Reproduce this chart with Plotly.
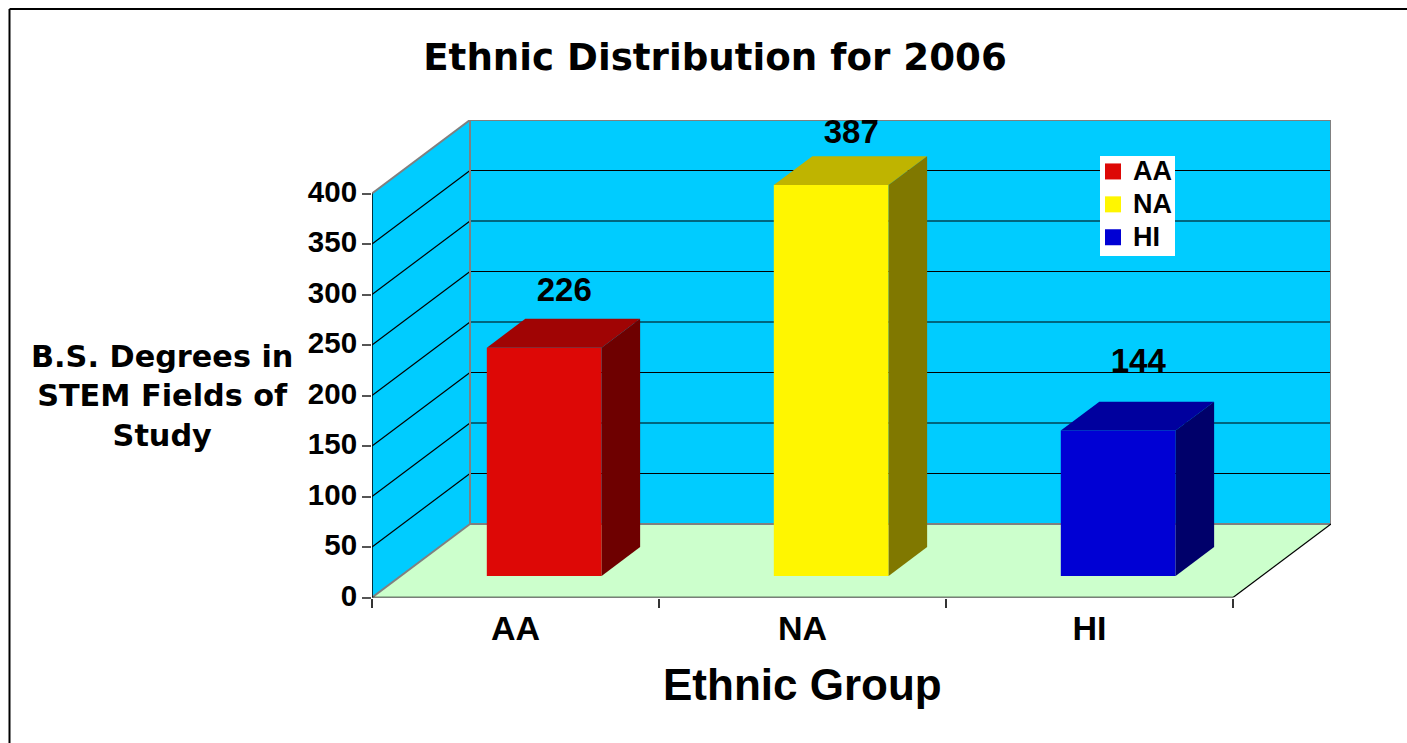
import plotly.graph_objects as go

# --- data ---
categories = ["AA", "NA", "HI"]
values = [226, 387, 144]
face_colors = ["#DD0806", "#FFF600", "#0000D4"]
top_colors = ["#A00404", "#BFB400", "#00009E"]
side_colors = ["#6E0000", "#807800", "#00006A"]
y_ticks = [0, 50, 100, 150, 200, 250, 300, 350, 400]
label_lift = [76, 71, 87]

W, H = 1407, 743
LEFT, RIGHT, TOP, BOTTOM = 372, 1331, 120, 597.5
CAT_PX, UNIT_PX = 287.0, 1.01
DX = (RIGHT - LEFT) / CAT_PX - len(categories)
DY = 73.5 / UNIT_PX
Y_TOP = y_ticks[-1] + DY
BAR_START, BAR_WIDTH = 0.3, 0.4
SHIFT, DEPTH = 0.293, 0.393
FONT = "Liberation Sans"
VERD = "DejaVu Sans"


def proj(x, v, d):
    return x + d * DX, v + d * DY


def path(points):
    return "M " + " L ".join(f"{x:.4f},{y:.4f}" for x, y in points) + " Z"


def line(p, q, color, width):
    return dict(type="line", xref="x", yref="y", x0=p[0], y0=p[1], x1=q[0], y1=q[1],
                line=dict(color=color, width=width), layer="below")


n = len(categories)
vmax = y_ticks[-1]
shapes = [
    dict(type="path", xref="x", yref="y", layer="below", fillcolor="#00CCFF", line=dict(width=0),
         path=path([proj(0, 0, 0), proj(0, vmax, 0), proj(0, vmax, 1), proj(0, 0, 1)])),
    dict(type="path", xref="x", yref="y", layer="below", fillcolor="#00CCFF", line=dict(width=0),
         path=path([proj(0, 0, 1), proj(0, vmax, 1), proj(n, vmax, 1), proj(n, 0, 1)])),
    dict(type="path", xref="x", yref="y", layer="below", fillcolor="#CCFFCC", line=dict(width=0),
         path=path([proj(0, 0, 0), proj(0, 0, 1), proj(n, 0, 1), proj(n, 0, 0)])),
]
for t in y_ticks[1:-1]:
    shapes.append(line(proj(0, t, 0), proj(0, t, 1), "#000000", 1.2))
    shapes.append(line(proj(0, t, 1), proj(n, t, 1), "#000000", 1.2))
GRAY = "#808080"
shapes += [
    line(proj(0, vmax, 0), proj(0, vmax, 1), GRAY, 2),
    line(proj(0, vmax, 1), proj(n, vmax, 1), GRAY, 2),
    line(proj(0, 0, 1), proj(0, vmax, 1), GRAY, 2),
    line(proj(n, 0, 1), proj(n, vmax, 1), GRAY, 2),
    line(proj(0, 0, 0), proj(0, 0, 1), GRAY, 2),
    line(proj(0, 0, 1), proj(n, 0, 1), GRAY, 2),
    line(proj(n, 0, 0), proj(n, 0, 1), "#000000", 1.2),
    line(proj(0, 0, 0), proj(n, 0, 0), "#000000", 1.5),
    line(proj(0, 0, 0), proj(0, vmax, 0), "#000000", 1.5),
]
# outer frame and legend box, in page fractions
shapes += [
    dict(type="line", xref="paper", yref="paper", x0=9.5 / W, x1=9.5 / W, y0=0, y1=1 - 9 / H,
         line=dict(color="#000000", width=2)),
    dict(type="line", xref="paper", yref="paper", x0=9.5 / W, x1=1, y0=1 - 9 / H, y1=1 - 9 / H,
         line=dict(color="#000000", width=2)),
    dict(type="rect", xref="paper", yref="paper", x0=1100 / W, x1=1175 / W, y0=1 - 256 / H, y1=1 - 156 / H,
         fillcolor="#FFFFFF", line=dict(width=0), layer="above"),
]

fig = go.Figure()
base = SHIFT * DY
for i, cat in enumerate(categories):
    x0 = i + BAR_START + SHIFT * DX
    fig.add_trace(go.Bar(x=[x0 + BAR_WIDTH / 2], y=[values[i]], base=[base], width=[BAR_WIDTH],
                         marker=dict(color=face_colors[i], line=dict(width=0)),
                         showlegend=False, hoverinfo="skip"))
    x1 = x0 + BAR_WIDTH
    top_y = base + values[i]
    dx, dy = (DEPTH * DX, DEPTH * DY)
    fig.add_trace(go.Scatter(x=[x0, x1, x1 + dx, x0 + dx, x0], y=[top_y, top_y, top_y + dy, top_y + dy, top_y],
                             mode="lines", fill="toself", fillcolor=top_colors[i], line=dict(width=0),
                             showlegend=False, hoverinfo="skip"))
    fig.add_trace(go.Scatter(x=[x1, x1 + dx, x1 + dx, x1, x1], y=[base, base + dy, top_y + dy, top_y, base],
                             mode="lines", fill="toself", fillcolor=side_colors[i], line=dict(width=0),
                             showlegend=False, hoverinfo="skip"))
    fig.add_trace(go.Scatter(x=[i + 0.67], y=[values[i] + label_lift[i]], mode="text", text=[str(values[i])],
                             textfont=dict(family=FONT, size=33, color="#000000", weight="bold"),
                             textposition="middle center", showlegend=False, hoverinfo="skip", cliponaxis=False))
for i, cat in enumerate(categories):
    fig.add_trace(go.Scatter(x=[None], y=[None], mode="markers", name=f'<span style="font-size:27px">{cat}</span>',
                             marker=dict(symbol="square", size=16, color=face_colors[i])))

fig.update_layout(
    width=W, height=H, margin=dict(l=0, r=0, t=0, b=0, autoexpand=False), autosize=False,
    paper_bgcolor="#FFFFFF", plot_bgcolor="rgba(0,0,0,0)", barmode="overlay", shapes=shapes,
    title=dict(text="Ethnic Distribution for 2006", x=715 / W, xanchor="center", y=1 - 57 / H, yanchor="middle",
               font=dict(family=VERD, size=37.2, color="#000000", weight="bold")),
    xaxis=dict(domain=[LEFT / W, RIGHT / W], range=[0, n + DX], tickmode="array",
               tickvals=[i + 0.5 for i in range(n)], ticktext=categories, ticks="", ticklabelstandoff=7,
               tickfont=dict(family=FONT, size=34, color="#000000", weight="bold"),
               minor=dict(tickmode="array", tickvals=list(range(n + 1)), ticks="outside", ticklen=9,
                          tickcolor="#333333", tickwidth=1.5),
               showgrid=False, zeroline=False, showline=False),
    yaxis=dict(domain=[1 - BOTTOM / H, 1 - TOP / H], range=[0, Y_TOP], tickmode="array", tickvals=y_ticks,
               ticks="outside", ticklen=9, tickcolor="#555555", tickwidth=1.5, ticklabelstandoff=-1,
               ticklabelshift=-2,
               tickfont=dict(family=FONT, size=29.5, color="#000000", weight="bold"),
               showgrid=False, zeroline=False, showline=False),
    legend=dict(x=1093 / W, y=1 - 150 / H, xanchor="left", yanchor="top", bgcolor="rgba(0,0,0,0)",
                borderwidth=0, tracegroupgap=0, itemclick=False,
                font=dict(family=FONT, size=23, color="#000000", weight="bold")),
    annotations=[
        dict(text="Ethnic Group", xref="paper", yref="paper", x=802 / W, y=1 - 684 / H, showarrow=False,
             xanchor="center", yanchor="middle",
             font=dict(family=FONT, size=44, color="#000000", weight="bold")),
        dict(text="B.S. Degrees in<br>STEM Fields of<br>Study", xref="paper", yref="paper", x=162 / W, y=1 - 396 / H,
             showarrow=False, xanchor="center", yanchor="middle", align="center",
             font=dict(family=VERD, size=30.3, color="#000000", weight="bold")),
    ],
)

fig.write_html("out.html", config=dict(displayModeBar=False),
               post_script="document.documentElement.style.overflow='hidden';document.body.style.margin='0';")
